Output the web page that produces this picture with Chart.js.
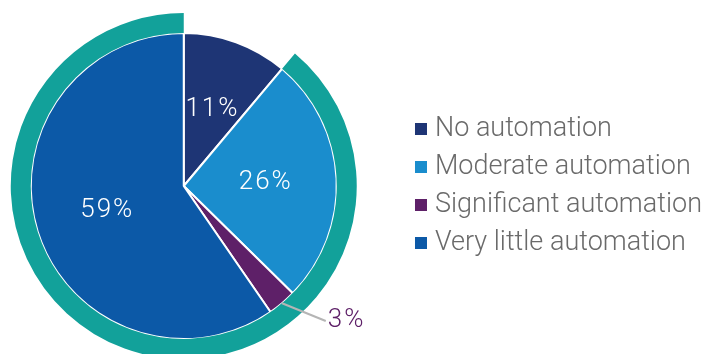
<!DOCTYPE html>
<html>
<head>
<meta charset="utf-8">
<script src="https://cdn.jsdelivr.net/npm/chart.js@4/dist/chart.umd.min.js"></script>
<style>
  html, body { margin: 0; padding: 0; background: #fff; overflow: hidden; }
  #page { position: relative; width: 701px; height: 354px; overflow: hidden; }
  /* canvas is a bit wider than the page so the pie sits close to the left edge */
  #graphContainer { position: absolute; left: -42px; top: 0; width: 760px; height: 354px; }
</style>
</head>
<body>
<div id="page"><div id="graphContainer"><canvas id="myChart"></canvas></div></div>
<script>
// Share of respondents by level of automation (%)
var categories = ["No automation", "Moderate automation", "Significant automation", "Very little automation"];
var shares = [11, 26, 3, 59];
var sliceColors = ["#1E3575", "#1A8DCD", "#5E2068", "#0C59A7"];

// Outer ring highlights everything except "No automation"
var ringValues = [shares[0], shares[1] + shares[2] + shares[3]];
var ringColors = ["rgba(0,0,0,0)", "#12A19A"];

var labelFont = "300 26px Roboto";

// Percent labels: inside the big slices, outside with a leader for the tiny one
var sliceLabels = {
    id: "sliceLabels",
    afterDatasetsDraw: function(chart) {
        var ctx = chart.ctx;
        var meta = chart.getDatasetMeta(1);
        ctx.save();
        ctx.font = labelFont;
        ctx.letterSpacing = "2px";
        ctx.textBaseline = "middle";
        meta.data.forEach(function(arc, i) {
            var p = arc.getProps(["x", "y", "startAngle", "endAngle", "outerRadius"], true);
            var mid = (p.startAngle + p.endAngle) / 2;
            var text = shares[i] + "%";
            if (shares[i] < 5) {
                var sx = p.x + Math.cos(mid) * p.outerRadius;
                var sy = p.y + Math.sin(mid) * p.outerRadius;
                var ex = p.x + 142, ey = p.y + 135;
                ctx.strokeStyle = "#B5B5B5";
                ctx.lineWidth = 2;
                ctx.beginPath();
                ctx.moveTo(sx, sy);
                ctx.lineTo(ex, ey);
                ctx.stroke();
                ctx.fillStyle = sliceColors[i];
                ctx.textAlign = "left";
                ctx.fillText(text, ex + 2, ey - 1);
            } else {
                var r = p.outerRadius * 0.53;
                ctx.fillStyle = "#FFFFFF";
                ctx.textAlign = "center";
                ctx.fillText(text, p.x + Math.cos(mid) * r + 1, p.y + Math.sin(mid) * r);
            }
        });
        ctx.restore();
    }
};

var ctx = document.getElementById("myChart").getContext("2d");
new Chart(ctx, {
    type: "doughnut",
    plugins: [sliceLabels],
    data: {
        labels: categories,
        datasets: [{
            data: ringValues,
            backgroundColor: ringColors,
            borderWidth: 0,
            weight: 20
        }, {
            data: shares,
            backgroundColor: sliceColors,
            borderColor: "#FFFFFF",
            borderWidth: 2,
            weight: 153
        }]
    },
    options: {
        responsive: true,
        maintainAspectRatio: false,
        animation: false,
        cutout: 0,
        radius: 173,
        layout: {
            padding: { left: 0, right: 6, top: 18, bottom: 0 }
        },
        plugins: {
            tooltip: { enabled: false },
            legend: {
                position: "right",
                labels: {
                    font: { family: "Roboto", size: 27, weight: 300 },
                    color: "#6A6A6A",
                    usePointStyle: true,
                    pointStyle: "rect",
                    boxWidth: 1,
                    boxHeight: 12,
                    padding: 11,
                    // colours come from the pie, not the ring
                    generateLabels: function(chart) {
                        return categories.map(function(text, i) {
                            return {
                                text: text,
                                fillStyle: sliceColors[i],
                                strokeStyle: sliceColors[i],
                                lineWidth: 0,
                                pointStyle: "rect",
                                fontColor: "#6A6A6A",
                                hidden: false,
                                index: i
                            };
                        });
                    }
                }
            }
        }
    }
});
</script>
</body>
</html>
